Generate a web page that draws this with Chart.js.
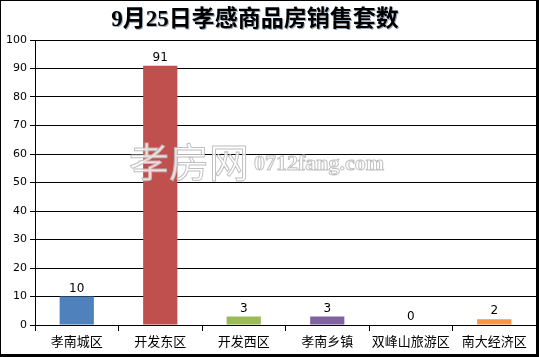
<!DOCTYPE html>
<html>
<head>
<meta charset="utf-8">
<script src="https://cdn.jsdelivr.net/npm/chart.js@4/dist/chart.umd.min.js"></script>
<style>
  body { margin: 0; background: #fff; }
  canvas { display: block; }
</style>
</head>
<body>
<canvas id="salesChart" width="539" height="357"></canvas>
<script>
const titleText = '9月25日孝感商品房销售套数';
const districts = ['孝南城区', '开发东区', '开发西区', '孝南乡镇', '双峰山旅游区', '南大经济区'];
const salesCount = [10, 91, 3, 3, 0, 2];
const barColors = ['#4F81BD', '#C0504D', '#9BBB59', '#8064A2', '#4BACC6', '#F79646'];
const yMin = 0;
const yMax = 100;
const yStep = 10;

const cjkFont = '"Noto Sans CJK SC", "DejaVu Sans", sans-serif';

// frame, title with shadow, watermark and value labels
const decorPlugin = {
    id: 'decor',
    beforeDraw(chart) {
        const ctx = chart.ctx;
        ctx.save();
        ctx.fillStyle = '#fff';
        ctx.fillRect(0, 0, chart.width, chart.height);
        ctx.restore();
    },
    afterDatasetsDraw(chart) {
        const ctx = chart.ctx;
        const meta = chart.getDatasetMeta(0);
        ctx.save();
        ctx.font = '12px "DejaVu Sans", sans-serif';
        ctx.fillStyle = '#000';
        ctx.textAlign = 'center';
        ctx.textBaseline = 'bottom';
        meta.data.forEach((bar, i) => {
            ctx.fillText(String(salesCount[i]), bar.x, bar.y - 2);
        });

        // watermark
        ctx.textBaseline = 'middle';
        ctx.textAlign = 'left';
        ctx.lineWidth = 1;
        ctx.font = '40px ' + cjkFont;
        ctx.fillStyle = 'rgba(255,255,255,0.8)';
        ctx.strokeStyle = 'rgba(185,185,185,0.9)';
        ctx.fillText('孝房网', 129, 162);
        ctx.strokeText('孝房网', 129, 162);
        ctx.font = 'bold 22px "Liberation Serif", serif';
        ctx.fillText('0712fang.com', 254, 164);
        ctx.strokeText('0712fang.com', 254, 164);
        ctx.restore();
    },
    afterDraw(chart) {
        const ctx = chart.ctx;
        ctx.save();
        ctx.font = 'bold 23px "Liberation Serif", ' + cjkFont;
        ctx.textAlign = 'center';
        ctx.textBaseline = 'middle';
        ctx.fillStyle = '#9ab';
        ctx.fillText(titleText, 256, 21);
        ctx.fillStyle = '#000';
        ctx.fillText(titleText, 255, 20);

        ctx.fillStyle = '#000';
        ctx.fillRect(0, 0, chart.width, 1);
        ctx.fillRect(0, 0, 1, chart.height);
        ctx.fillRect(chart.width - 3, 0, 3, chart.height);
        ctx.fillRect(0, chart.height - 3, chart.width, 3);
        ctx.restore();
    }
};

const ctx = document.getElementById('salesChart').getContext('2d');
const chart = new Chart(ctx, {
    type: 'bar',
    data: {
        labels: districts,
        datasets: [{
            data: salesCount,
            backgroundColor: barColors,
            categoryPercentage: 1,
            barPercentage: 0.41
        }]
    },
    options: {
        responsive: false,
        animation: false,
        layout: { padding: { top: 40, right: 3, left: 0, bottom: 0 } },
        plugins: {
            legend: { display: false },
            title: { display: false },
            tooltip: { enabled: false }
        },
        scales: {
            x: {
                offset: true,
                grid: {
                    offset: true,
                    drawOnChartArea: false,
                    color: '#000',
                    tickLength: 6
                },
                border: { color: '#000', width: 1 },
                ticks: {
                    color: '#000',
                    padding: 2,
                    maxRotation: 0,
                    autoSkip: false,
                    font: { family: cjkFont, size: 13 }
                },
                afterFit(scale) { scale.height = 32; }
            },
            y: {
                min: yMin,
                max: yMax,
                grid: { color: '#000', tickLength: 5 },
                border: { color: '#000', width: 1 },
                ticks: {
                    stepSize: yStep,
                    color: '#000',
                    padding: 3,
                    font: { family: '"DejaVu Sans", sans-serif', size: 11 }
                },
                afterFit(scale) { scale.width = 35; }
            }
        }
    },
    plugins: [decorPlugin]
});
</script>
</body>
</html>
